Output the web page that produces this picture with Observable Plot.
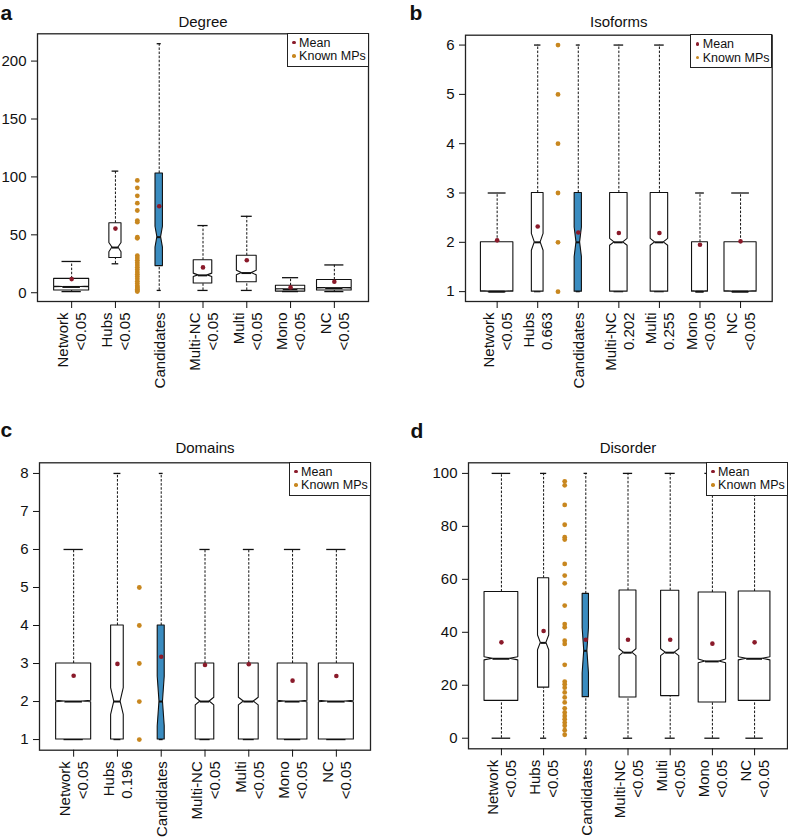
<!DOCTYPE html>
<html><head><meta charset="utf-8">
<script src="https://cdn.jsdelivr.net/npm/d3@7"></script>
<script src="https://cdn.jsdelivr.net/npm/@observablehq/plot@0.6"></script>
<style>
body{margin:0;background:#fff;}
#root{position:relative;width:788px;height:838px;overflow:hidden;font-family:"Liberation Sans",Arial,sans-serif;background:#fff;}
.panel{position:absolute;width:394px;height:419px;}
.legend{position:absolute;border:1px solid #222;background:#fff;font-size:12.5px;line-height:13.5px;box-sizing:border-box;padding:3px 0 0 4.5px;color:#111;}
.legend .row{white-space:nowrap;}
.legend .dot{display:inline-block;width:3.6px;height:3.6px;border-radius:50%;margin-right:3.5px;vertical-align:middle;position:relative;top:-1px;}
</style></head><body><div id="root"></div>
<script>
// ---------- data ----------
const categories = ["Network","Hubs","Candidates","Multi-NC","Multi","Mono","NC"];
const legendLabels = ["Mean","Known MPs"];
const panelLetters = ["a","b","c","d"];
const panelTitles = ["Degree","Isoforms","Domains","Disorder"];

// (a) Degree
const degreeLower  = [1, 25, 2, 2, 2, 1, 1];
const degreeQ1     = [2, 30, 23, 8, 9, 1, 2];
const degreeMedian = [5, 39, 48, 15, 17, 3, 4];
const degreeQ3     = [12, 60, 103, 28, 32, 6, 11];
const degreeUpper  = [27, 105, 215, 58, 66, 13, 24];
const degreeMean   = [11.8, 55.4, 74.7, 21.9, 28, 4.6, 9.5];
const degreeNotch  = [0.3, 4, 9, 1.5, 2, 0.2, 0.3];
const degreeRelN   = [1, 0.12, 0.045, 0.28, 0.32, 0.70, 0.98];
const degreePValue = ["<0.05", "<0.05", "", "<0.05", "<0.05", "<0.05", "<0.05"];
const degreeKnownMPs = [97, 90.6, 83.7, 77.3, 71, 62.3, 60.9, 47.9, 47, 32, 30, 28, 26, 24, 22, 20, 18, 16, 14, 12, 10, 8, 6, 5, 4, 3, 2, 1];
const degreeTicks = [0, 50, 100, 150, 200];

// (b) Isoforms
const isoLower  = [1, 1, 1, 1, 1, 1, 1];
const isoQ1     = [1, 1, 1, 1, 1, 1, 1];
const isoMedian = [1, 2, 2, 2, 2, 1, 1];
const isoQ3     = [2, 3, 3, 3, 3, 2, 2];
const isoUpper  = [3, 6, 6, 6, 6, 3, 3];
const isoMean   = [2.04, 2.32, 2.2, 2.19, 2.19, 1.95, 2.02];
const isoNotch  = [0.01, 0.17, 0.3, 0.07, 0.07, 0.01, 0.01];
const isoRelN   = [1, 0.13, 0.05, 0.29, 0.29, 0.24, 0.98];
const isoPValue = ["<0.05", "0.663", "", "0.202", "0.255", "<0.05", "<0.05"];
const isoKnownMPs = [1, 2, 3, 4, 5, 6];
const isoTicks = [1, 2, 3, 4, 5, 6];

// (c) Domains
const domLower  = [1, 1, 1, 1, 1, 1, 1];
const domQ1     = [1, 1, 1, 1, 1, 1, 1];
const domMedian = [2, 2, 2, 2, 2, 2, 2];
const domQ3     = [3, 4, 4, 3, 3, 3, 3];
const domUpper  = [6, 8, 8, 6, 6, 6, 6];
const domMean   = [2.68, 2.99, 3.18, 2.96, 2.98, 2.55, 2.67];
const domNotch  = [0.02, 0.35, 0.65, 0.1, 0.1, 0.02, 0.02];
const domRelN   = [1, 0.13, 0.04, 0.28, 0.32, 0.72, 1.0];
const domPValue = ["<0.05", "0.196", "", "<0.05", "<0.05", "<0.05", "<0.05"];
const domKnownMPs = [1, 2, 3, 4, 5];
const domTicks = [1, 2, 3, 4, 5, 6, 7, 8];

// (d) Disorder
const disLower  = [0, 0, 0, 0, 0, 0, 0];
const disQ1     = [14.1, 19.1, 15.5, 15.4, 15.9, 13.5, 14.1];
const disMedian = [30, 36, 33, 32.3, 32.3, 29, 30];
const disQ3     = [55.2, 60.4, 54.5, 55.8, 55.7, 55, 55.4];
const disUpper  = [100, 100, 100, 100, 100, 100, 100];
const disMean   = [36.2, 40.5, 37.2, 37.2, 37.2, 35.7, 36.2];
const disNotch  = [0.6, 2.8, 8.5, 1.3, 1.3, 0.7, 0.6];
const disRelN   = [1, 0.11, 0.035, 0.25, 0.29, 0.66, 0.88];
const disPValue = ["<0.05", "<0.05", "", "<0.05", "<0.05", "<0.05", "<0.05"];
const disKnownMPs = [97, 95.5, 88.1, 80.6, 75.9, 75, 65.8, 61.4, 58.5, 50.1, 43.1, 41.9, 36.8, 35.6, 27.7, 21.4, 20.4, 19.1, 17.3, 15.4, 13.5, 11.3, 9.7, 8.4, 7.2, 5.9, 4.7, 3, 1.3];
const disTicks = [0, 20, 40, 60, 80, 100];

// ---------- panels ----------
const panels = [
  {lower: degreeLower, q1: degreeQ1, median: degreeMedian, q3: degreeQ3, upper: degreeUpper, mean: degreeMean, notch: degreeNotch, relN: degreeRelN, pval: degreePValue, mps: degreeKnownMPs, ticks: degreeTicks},
  {lower: isoLower, q1: isoQ1, median: isoMedian, q3: isoQ3, upper: isoUpper, mean: isoMean, notch: isoNotch, relN: isoRelN, pval: isoPValue, mps: isoKnownMPs, ticks: isoTicks},
  {lower: domLower, q1: domQ1, median: domMedian, q3: domQ3, upper: domUpper, mean: domMean, notch: domNotch, relN: domRelN, pval: domPValue, mps: domKnownMPs, ticks: domTicks},
  {lower: disLower, q1: disQ1, median: disMedian, q3: disQ3, upper: disUpper, mean: disMean, notch: disNotch, relN: disRelN, pval: disPValue, mps: disKnownMPs, ticks: disTicks}
];

const layouts = [
  {x0: 0,   y0: 0,   ml: 37, mr: 26,   mt: 33.3, mb: 118,  titleDy: -11.4, letterDx: -37, letterDy: -20.8},
  {x0: 394, y0: 0,   ml: 71, mr: 16.3, mt: 34.7, mb: 118,  titleDy: -12.8, letterDx: -56, letterDy: -22.2},
  {x0: 0,   y0: 419, ml: 39, mr: 24,   mt: 43.3, mb: 88.3, titleDy: -14.8, letterDx: -39, letterDy: -32.2},
  {x0: 394, y0: 419, ml: 74, mr: 1,    mt: 43.3, mb: 89.7, titleDy: -14.8, letterDx: -58, letterDy: -31.5}
];

const FONT = "'Liberation Sans', Arial, Helvetica, sans-serif";
const BLUE = "#3a8cc0", MEANC = "#8a1a2a", MPC = "#c8871f";
const root = document.getElementById("root");

panels.forEach((p, k) => {
  const L = layouts[k];
  const n = categories.length;
  const pos = categories.map((c, i) => i + 1);
  const mpPos = (pos[1] + pos[2]) / 2;
  const boxes = categories.map((c, i) => ({
    cat: c, pos: pos[i], lower: p.lower[i], q1: p.q1[i], med: p.median[i], q3: p.q3[i],
    upper: p.upper[i], mean: p.mean[i], notch: p.notch[i],
    hw: 0.4 * Math.sqrt(p.relN[i]), cand: c === "Candidates"
  }));
  const poly = [];
  for (const b of boxes) {
    const lo = Math.max(b.med - b.notch, b.q1), hi = Math.min(b.med + b.notch, b.q3);
    const pts = [[b.q1, b.hw], [lo, b.hw], [b.med, b.hw * 0.5], [hi, b.hw], [b.q3, b.hw]];
    for (const [y, w] of pts) poly.push({key: b.cat, cand: b.cand, y, x1: b.pos - w, x2: b.pos + w});
  }
  const allY = [...p.lower, ...p.upper, ...p.mps];
  const ymin = d3.min(allY), ymax = d3.max(allY), pad = 0.04 * (ymax - ymin);
  const xpad = 0.04 * n;
  const labels = categories.map((c, i) => ({pos: pos[i], label: p.pval[i] ? c + "\n" + p.pval[i] : c}));

  const chart = Plot.plot({
    width: 394, height: 419,
    marginLeft: L.ml, marginRight: L.mr, marginTop: L.mt, marginBottom: L.mb,
    x: {domain: [0.5 - xpad, n + 0.5 + xpad]},
    y: {domain: [ymin - pad, ymax + pad]},
    style: {fontFamily: FONT, fontSize: "15px", background: "transparent", overflow: "visible", color: "#111"},
    marks: [
      Plot.ruleX(boxes, {x: "pos", y1: "q3", y2: "upper", stroke: "#111", strokeWidth: 1, strokeDasharray: "2.5,1.6"}),
      Plot.ruleX(boxes, {x: "pos", y1: "lower", y2: "q1", stroke: "#111", strokeWidth: 1, strokeDasharray: "2.5,1.6"}),
      Plot.ruleY(boxes, {y: "upper", x1: d => d.pos - d.hw * 0.55, x2: d => d.pos + d.hw * 0.55, stroke: "#111", strokeWidth: 1.3}),
      Plot.ruleY(boxes, {y: "lower", x1: d => d.pos - d.hw * 0.55, x2: d => d.pos + d.hw * 0.55, stroke: "#111", strokeWidth: 1.3}),
      Plot.areaX(poly.filter(d => !d.cand), {y: "y", x1: "x1", x2: "x2", z: "key", fill: "white", stroke: "#111", strokeWidth: 1.1}),
      Plot.areaX(poly.filter(d => d.cand), {y: "y", x1: "x1", x2: "x2", z: "key", fill: BLUE, stroke: "#111", strokeWidth: 1.1}),
      Plot.ruleY(boxes, {y: "med", x1: d => d.pos - d.hw * 0.5, x2: d => d.pos + d.hw * 0.5, stroke: "#111", strokeWidth: 2}),
      Plot.dot(p.mps, {x: () => mpPos, y: d => d, r: 2.4, fill: MPC}),
      Plot.dot(boxes, {x: "pos", y: "mean", r: 2.3, fill: MEANC}),
      Plot.frame({stroke: "#222", strokeWidth: 1.3}),
      Plot.axisY({ticks: p.ticks, tickFormat: d3.format("d"), tickSize: 6, tickPadding: 5, fontSize: 15, label: null}),
      Plot.axisX({ticks: pos, tickSize: 7, tickFormat: () => "", label: null}),
      Plot.text(labels, {x: "pos", text: "label", frameAnchor: "bottom", dy: 11, rotate: -90, textAnchor: "end", lineAnchor: "middle", lineHeight: 1.2, fontSize: 15}),
      Plot.text([panelTitles[k]], {text: d => d, frameAnchor: "top", dy: L.titleDy, lineAnchor: "middle", fontSize: 15}),
      Plot.text([panelLetters[k]], {text: d => d, frameAnchor: "top-left", dx: L.letterDx, dy: L.letterDy, textAnchor: "start", lineAnchor: "middle", fontSize: 21, fontWeight: "bold"})
    ]
  });
  const div = document.createElement("div");
  div.className = "panel";
  div.style.left = L.x0 + "px";
  div.style.top = L.y0 + "px";
  div.appendChild(chart);
  root.appendChild(div);

  // legend box in top-right corner of frame
  const leg = document.createElement("div");
  leg.className = "legend";
  const frameRight = L.x0 + 394 - L.mr;
  const w = 82, h = 34;
  leg.style.left = (frameRight - w + 0.5) + "px";
  leg.style.top = (L.y0 + L.mt - 0.5) + "px";
  leg.style.width = w + "px";
  leg.style.height = h + "px";
  const colors = [MEANC, MPC];
  legendLabels.forEach((t, i) => {
    const row = document.createElement("div");
    row.className = "row";
    const dot = document.createElement("span");
    dot.className = "dot";
    dot.style.background = colors[i];
    row.appendChild(dot);
    row.appendChild(document.createTextNode(t));
    leg.appendChild(row);
  });
  root.appendChild(leg);
});
</script>
</body></html>
